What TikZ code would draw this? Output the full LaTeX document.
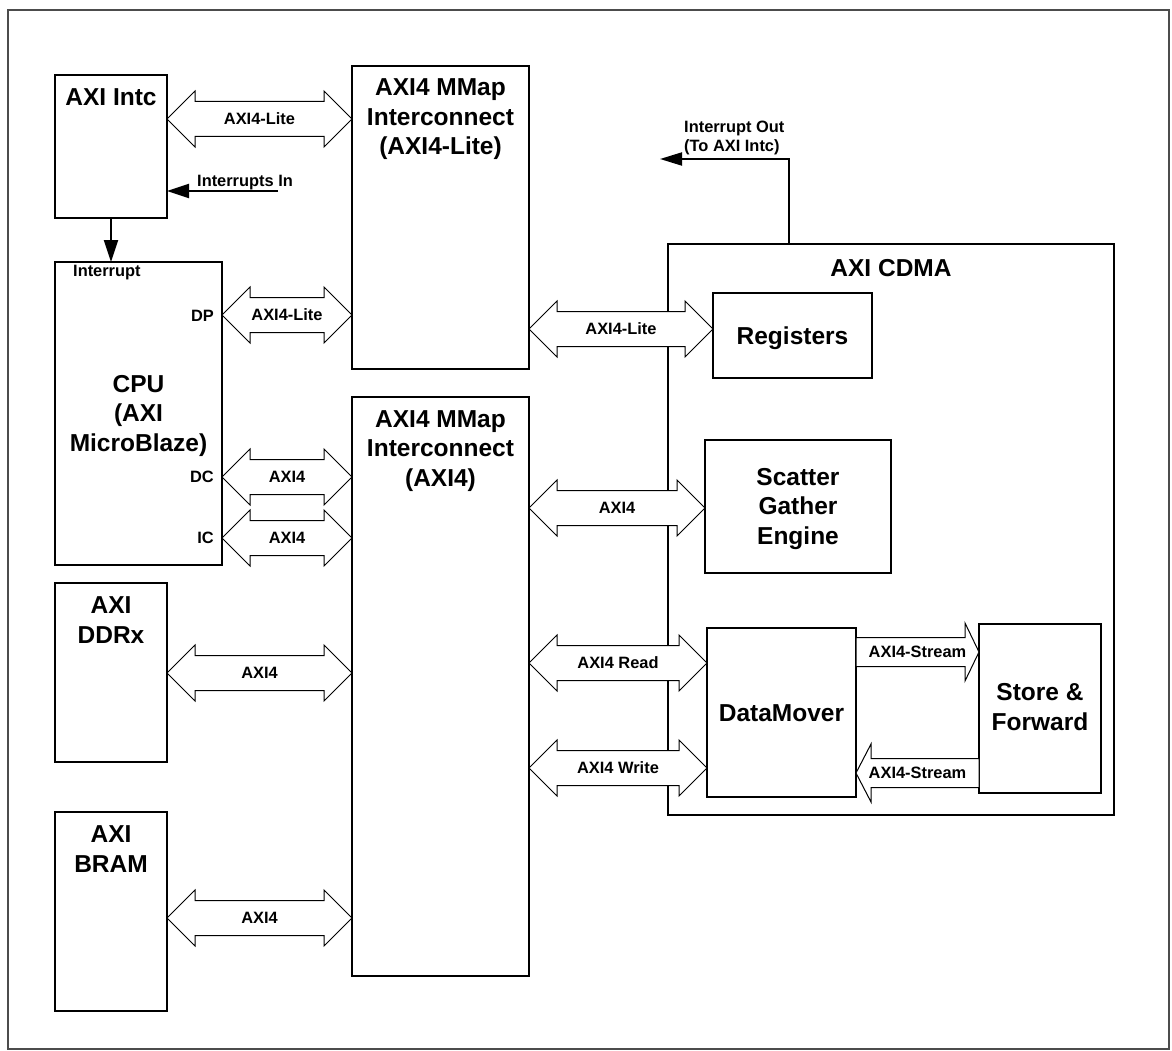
\documentclass[tikz,border=0pt]{standalone}
\usepackage{fontspec}
\setmainfont{Liberation Sans}
\usetikzlibrary{calc,arrows.meta}

\newcommand\dblarrow[4]{%
  \draw[blk] (#1) -- ($(#1)+(28,-28)$) -- ($(#1)+(28,-17.5)$) -- ($(#2)+(-28,-17.5)$) -- ($(#2)+(-28,-28)$) -- (#2)
     -- ($(#2)+(-28,28)$) -- ($(#2)+(-28,17.5)$) -- ($(#1)+(28,17.5)$) -- ($(#1)+(28,28)$) -- cycle;
  \node[lbl] (#4) at ($(#1)!0.5!(#2)$) {#3};}

\begin{document}
\begin{tikzpicture}[x=1pt,y=-1pt,
  box/.style={draw, line width=2pt, inner sep=0pt, outer sep=0pt, anchor=north west, fill=white},
  big/.style={font=\fontsize{24.5}{29.5}\selectfont\bfseries, align=center, inner sep=0pt, anchor=base},
  lbl/.style={font=\fontsize{16.4}{19.5}\selectfont\bfseries, inner sep=0pt, text height=11.7pt, text depth=0pt},
  blk/.style={draw, line width=1pt, fill=white, line join=miter},
  sig/.style={line width=2pt, -{Triangle[length=22pt,width=14pt]}}]

\useasboundingbox (0,0) rectangle (1172,1051);
\draw[black!70, line width=1.3pt] (8,10) rectangle (1169,1049);

% outer boxes
\node[box, minimum width=446pt, minimum height=571pt] (cdma) at (668,244) {};
\node[box, minimum width=112pt, minimum height=143pt] (intc) at (55,75) {};
\node[box, minimum width=167pt, minimum height=303pt] (cpu) at (55,262) {};
\node[box, minimum width=112pt, minimum height=179pt] (ddr) at (55,583) {};
\node[box, minimum width=112pt, minimum height=199pt] (bram) at (55,812) {};
\node[box, minimum width=177pt, minimum height=303pt] (icl) at (352,66) {};
\node[box, minimum width=177pt, minimum height=579pt] (ica) at (352,397) {};
\node[box, minimum width=159pt, minimum height=85pt] (reg) at (713,293) {};
\node[box, minimum width=186pt, minimum height=133pt] (sg) at (705,440) {};
\node[box, minimum width=149pt, minimum height=169pt] (dm) at (707,628) {};
\node[box, minimum width=122pt, minimum height=169pt] (sf) at (979,624) {};

% box texts (base = baseline of last line)
\node[big] (intcT) at (111,106) {AXI Intc};
\node[big] (cpuT) at (138.5,451) {CPU\\(AXI\\MicroBlaze)};
\node[big] (ddrT) at (111,643) {AXI\\DDRx};
\node[big] (bramT) at (111,872) {AXI\\BRAM};
\node[big] (iclT) at (440.5,155) {AXI4 MMap\\Interconnect\\(AXI4-Lite)};
\node[big] (icaT) at (440.5,486) {AXI4 MMap\\Interconnect\\(AXI4)};
\node[big] (cdmaT) at (891,276) {AXI CDMA};
\node[big] (regT) at (792.5,344) {Registers};
\node[big] (sgT) at (798,544) {Scatter\\Gather\\Engine};
\node[big] (dmT) at (781.5,721) {DataMover};
\node[big] (sfT) at (1040,730) {Store \&\\Forward};

% port labels
\node[lbl, anchor=base west] (irqL) at (73,276) {Interrupt};
\node[lbl, anchor=base east] (dpL) at (214,321) {DP};
\node[lbl, anchor=base east] (dcL) at (214,482) {DC};
\node[lbl, anchor=base east] (icL) at (214,543) {IC};

% double block arrows
\dblarrow{intc.east |- 0,119}{icl.west |- 0,119}{AXI4-Lite}{a1}
\dblarrow{cpu.east |- 0,315}{icl.west |- 0,315}{AXI4-Lite}{a2}
\dblarrow{cpu.east |- 0,477}{ica.west |- 0,477}{AXI4}{a3}
\dblarrow{cpu.east |- 0,538}{ica.west |- 0,538}{AXI4}{a4}
\dblarrow{ddr.east |- 0,673}{ica.west |- 0,673}{AXI4}{a5}
\dblarrow{bram.east |- 0,918}{ica.west |- 0,918}{AXI4}{a6}
\dblarrow{icl.east |- 0,329}{reg.west |- 0,329}{AXI4-Lite}{a7}
\dblarrow{ica.east |- 0,508}{sg.west |- 0,508}{AXI4}{a8}
\dblarrow{ica.east |- 0,663}{dm.west |- 0,663}{AXI4 Read}{a9}
\dblarrow{ica.east |- 0,768}{dm.west |- 0,768}{AXI4 Write}{a10}

% stream arrows
\coordinate (s1a) at (dm.east |- 0,652);
\coordinate (s1b) at (sf.west |- 0,652);
\draw[blk] ($(s1a)+(0,-14.5)$) -- ($(s1b)+(-14,-14.5)$) -- ($(s1b)+(-14,-29)$) -- (s1b)
  -- ($(s1b)+(-14,29)$) -- ($(s1b)+(-14,14.5)$) -- ($(s1a)+(0,14.5)$) -- cycle;
\node[lbl] (s1L) at ($(s1a)!0.5!(s1b)$) {AXI4-Stream};
\coordinate (s2a) at (sf.west |- 0,773);
\coordinate (s2b) at (dm.east |- 0,773);
\draw[blk] ($(s2a)+(0,-14.5)$) -- ($(s2b)+(15,-14.5)$) -- ($(s2b)+(15,-29)$) -- (s2b)
  -- ($(s2b)+(15,29)$) -- ($(s2b)+(15,14.5)$) -- ($(s2a)+(0,14.5)$) -- cycle;
\node[lbl] (s2L) at ($(s2a)!0.5!(s2b)$) {AXI4-Stream};

% interrupt signals
\draw[sig] (intc.south) -- (cpu.north -| intc.south);
\coordinate (irqin) at (278,191);
\draw[sig] (irqin) -- (intc.east |- irqin);
\node[lbl, anchor=base west] (irqinL) at (197,187) {Interrupts In};
\coordinate (irqout) at (660,159);
\draw[sig, -{Triangle[length=22pt,width=13pt]}] (cdma.north -| 789,0) |- (irqout);
\node[lbl, anchor=base west, align=left, text height=, text depth=] (irqoutL) at (684,152) {Interrupt Out\\(To AXI Intc)};
\end{tikzpicture}
\end{document}
